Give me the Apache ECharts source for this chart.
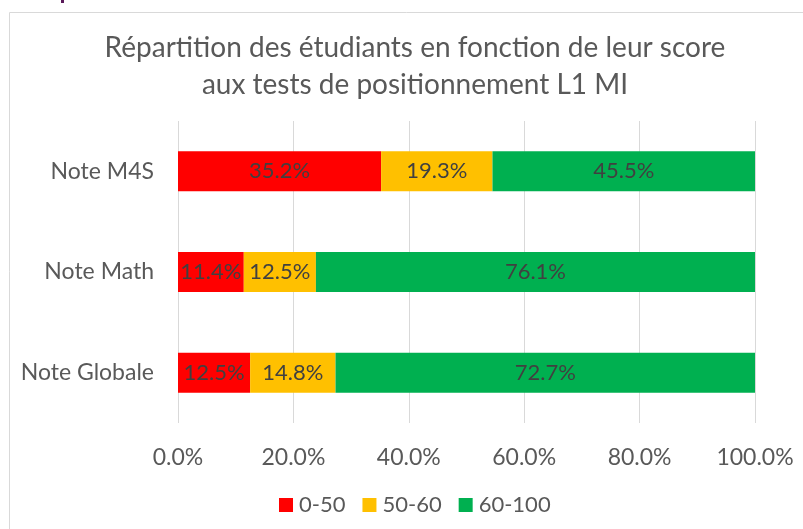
<!DOCTYPE html>
<html>
  <head>
    <meta charset="utf-8" />
    <title>Répartition des étudiants</title>
    <script src="https://cdn.jsdelivr.net/npm/echarts@6/dist/echarts.min.js"></script>
    <style>
      html, body { margin: 0; padding: 0; background: #fff; }
    </style>
  </head>
  <body>
    <div id="chart" style="width: 803px; height: 529px"></div>

    <script type="text/javascript">
// Categories, top to bottom
const categories = ['Note M4S', 'Note Math', 'Note Globale'];

// Share of students per score band (%)
const band_0_50 = [35.2, 11.4, 12.5];
const band_50_60 = [19.3, 12.5, 14.8];
const band_60_100 = [45.5, 76.1, 72.7];

const series_names = ['0-50', '50-60', '60-100'];
const series_colors = ['#FF0000', '#FFC000', '#00B050'];

const font = 'Lato, "Open Sans", sans-serif';
const text_color = '#595959';

function bar_series(name, values, color) {
  return {
    name: name,
    type: 'bar',
    stack: 'total',
    barWidth: 40,
    itemStyle: { color: color },
    label: {
      show: true,
      position: 'inside',
      color: '#404040',
      fontFamily: font,
      fontSize: 22,
      formatter: (p) => p.value.toFixed(1) + '%'
    },
    data: values
  };
}

const chart = echarts.init(document.getElementById('chart'));

chart.setOption({
  animation: false,
  textStyle: { fontFamily: font },
  title: {
    text: 'Répartition des étudiants en fonction de leur score\naux tests de positionnement L1 MI',
    left: 410,
    top: 24,
    textAlign: 'center',
    textStyle: {
      color: text_color,
      fontFamily: font,
      fontSize: 28,
      fontWeight: 'normal',
      lineHeight: 37
    }
  },
  legend: {
    left: 274,
    top: 489,
    itemWidth: 14,
    itemHeight: 14,
    itemGap: 17,
    icon: 'rect',
    textStyle: { color: text_color, fontSize: 22, fontFamily: font, padding: [0, 0, 0, 1] },
    data: series_names
  },
  grid: {
    left: 178,
    right: 48,
    top: 121,
    bottom: 106,
    containLabel: false
  },
  xAxis: {
    type: 'value',
    min: 0,
    max: 100,
    interval: 20,
    axisLine: { show: false },
    axisTick: { show: false },
    splitLine: { lineStyle: { color: '#d9d9d9', width: 1 } },
    axisLabel: {
      color: text_color,
      fontSize: 23,
      fontFamily: font,
      margin: 23,
      formatter: (v) => v.toFixed(1) + '%'
    }
  },
  yAxis: {
    type: 'category',
    inverse: true,
    data: categories,
    axisLine: { show: false },
    axisTick: { show: false },
    axisLabel: {
      color: text_color,
      fontSize: 23,
      fontFamily: font,
      margin: 24
    }
  },
  graphic: [
    {
      type: 'rect',
      shape: { x: 9.5, y: 12.5, width: 900, height: 600 },
      style: { fill: 'none', stroke: '#d9d9d9', lineWidth: 1 },
      silent: true
    },
    {
      type: 'rect',
      shape: { x: 61, y: 0, width: 3, height: 3 },
      style: { fill: '#5a1a5a' },
      silent: true
    }
  ],
  series: [
    bar_series(series_names[0], band_0_50, series_colors[0]),
    bar_series(series_names[1], band_50_60, series_colors[1]),
    bar_series(series_names[2], band_60_100, series_colors[2])
  ]
});
    </script>
  </body>
</html>
